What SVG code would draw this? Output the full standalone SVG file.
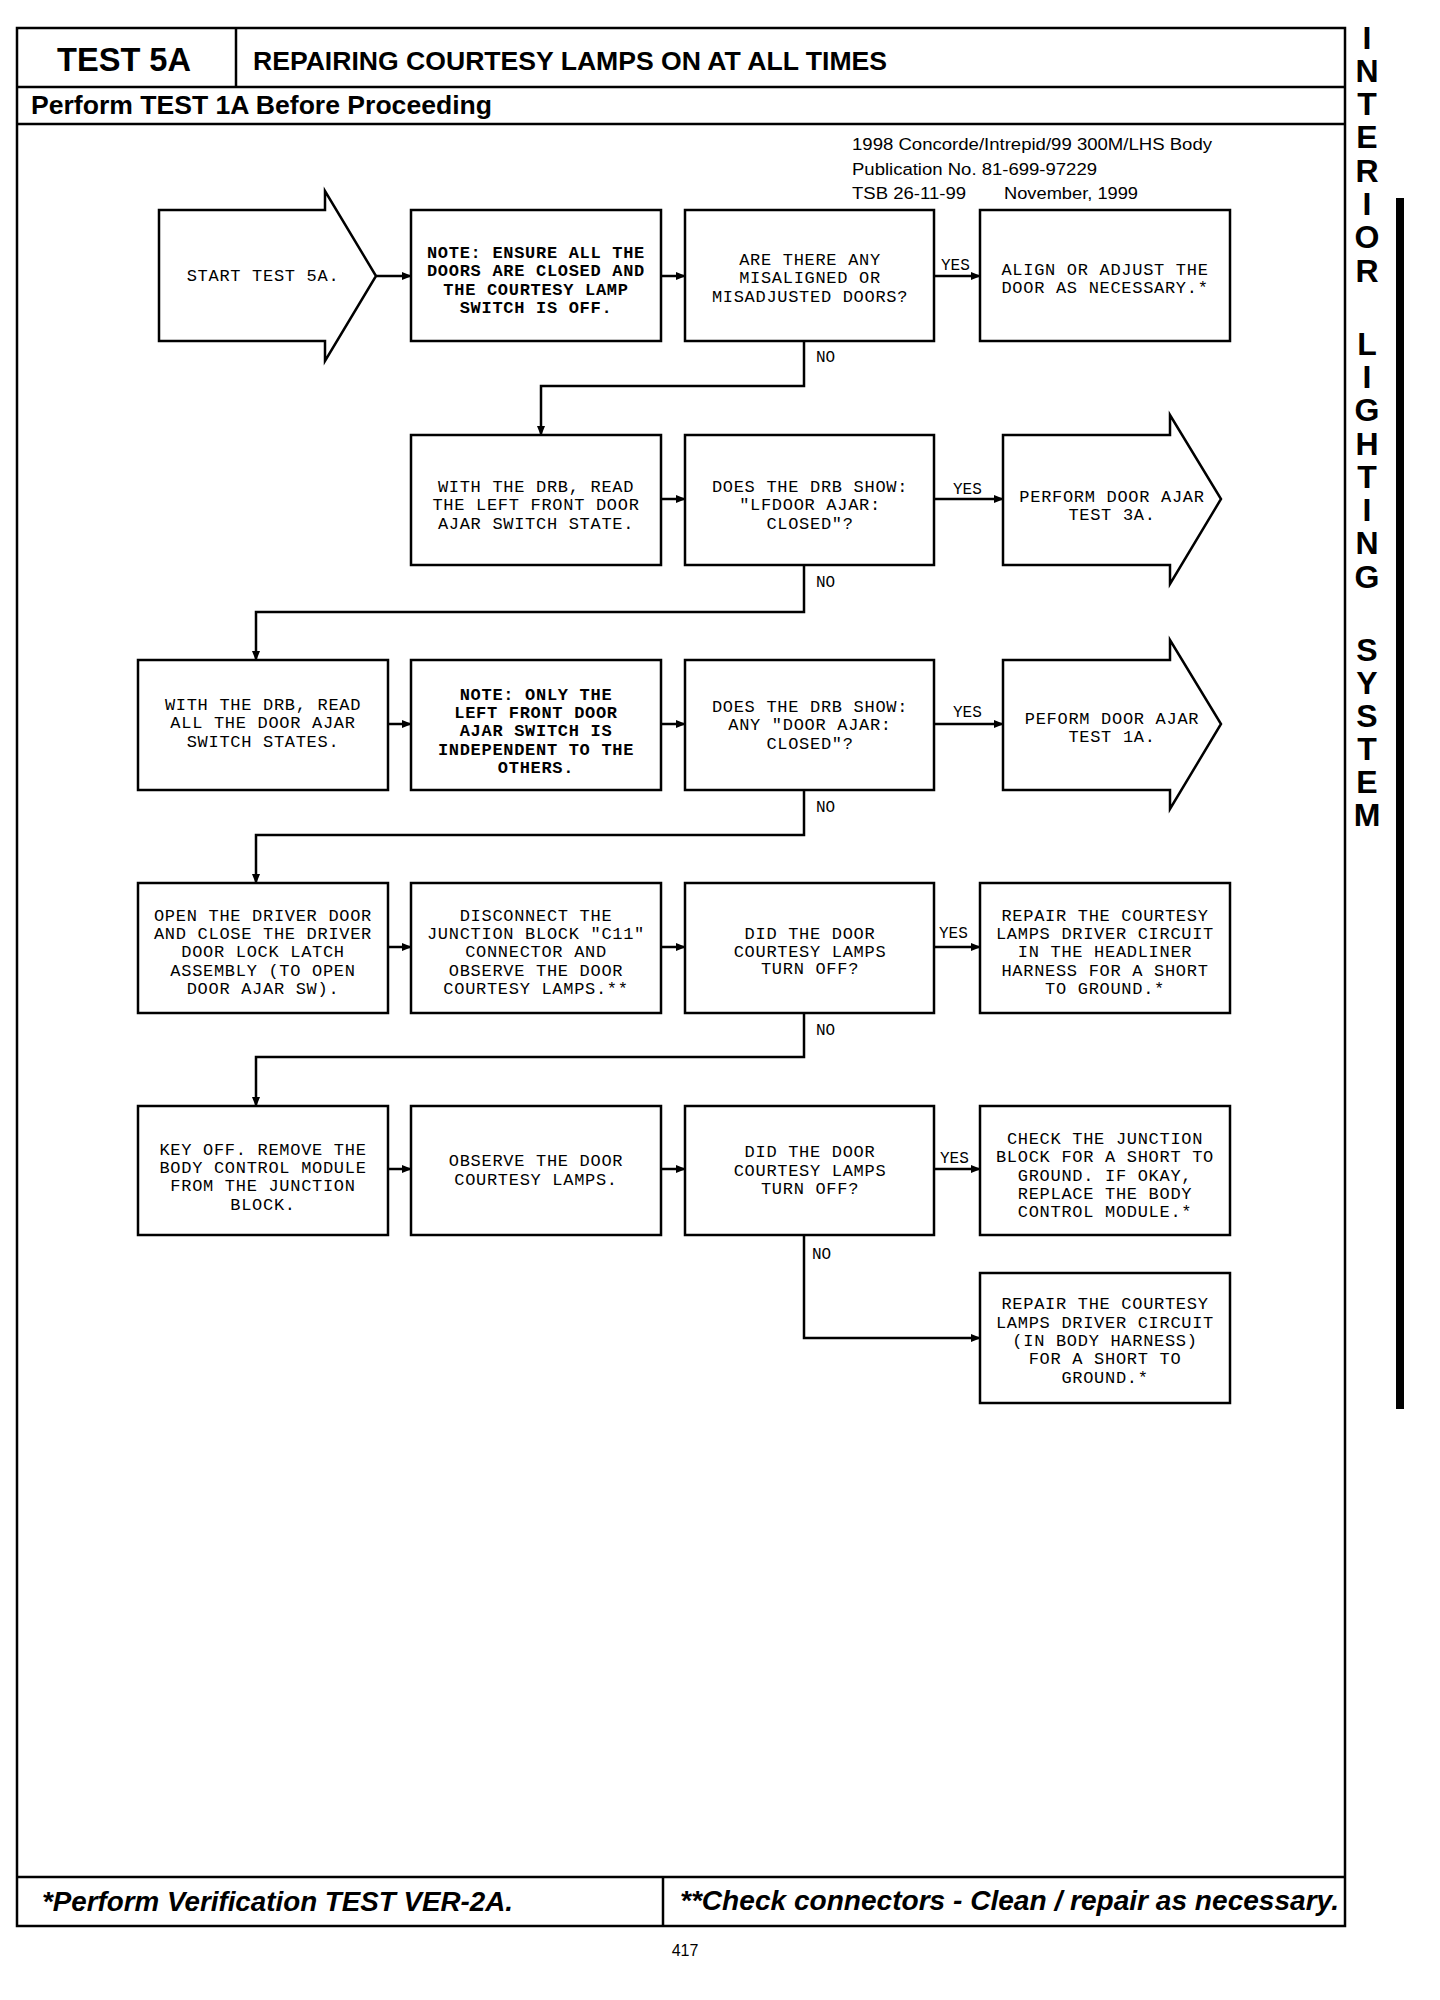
<svg xmlns="http://www.w3.org/2000/svg" width="1440" height="2000" viewBox="0 0 1440 2000">
<style>
.frame{fill:none;stroke:#000;stroke-width:2.5}
.box{fill:#fff;stroke:#000;stroke-width:2.5}
.t{font-family:"Liberation Mono","Courier New",monospace;font-size:17px;letter-spacing:0.7px;text-anchor:middle;fill:#000}
.b{font-weight:bold}
.lbl{font-family:"Liberation Mono","Courier New",monospace;font-size:16px;fill:#000}
.c{fill:none;stroke:#000;stroke-width:2.5}
.hd{font-family:"Liberation Sans",Arial,sans-serif;font-weight:bold;fill:#000}
.pub{font-family:"Liberation Sans",Arial,sans-serif;font-size:16px;fill:#000}
.side{font-family:"Liberation Sans",Arial,sans-serif;font-weight:bold;font-size:32px;text-anchor:middle;fill:#000}
.ft{font-family:"Liberation Sans",Arial,sans-serif;font-weight:bold;font-style:italic;font-size:27px;fill:#000}
</style>
<defs>
<marker id="ah" markerWidth="10" markerHeight="8" refX="9" refY="4" orient="auto" markerUnits="userSpaceOnUse">
<path d="M0,0 L10,4 L0,8 Z" fill="#000"/>
</marker>
</defs>
<rect width="1440" height="2000" fill="#fff"/>

<g id="frame">
<rect class="frame" x="17" y="28" width="1328" height="1898"/>
<line class="frame" x1="17" y1="87" x2="1345" y2="87"/>
<line class="frame" x1="17" y1="124" x2="1345" y2="124"/>
<line class="frame" x1="236" y1="28" x2="236" y2="87"/>
<line class="frame" x1="17" y1="1877" x2="1345" y2="1877"/>
<line class="frame" x1="663" y1="1877" x2="663" y2="1926"/>
<text class="hd" x="57" y="71" font-size="34" textLength="134" lengthAdjust="spacingAndGlyphs">TEST 5A</text>
<text class="hd" x="253" y="70" font-size="26" textLength="634" lengthAdjust="spacingAndGlyphs">REPAIRING COURTESY LAMPS ON AT ALL TIMES</text>
<text class="hd" x="31" y="114" font-size="25" textLength="461" lengthAdjust="spacingAndGlyphs">Perform TEST 1A Before Proceeding</text>
<text class="pub" x="852" y="150" textLength="360" lengthAdjust="spacingAndGlyphs">1998 Concorde/Intrepid/99 300M/LHS Body</text>
<text class="pub" x="852" y="175" textLength="245" lengthAdjust="spacingAndGlyphs">Publication No. 81-699-97229</text>
<text class="pub" x="852" y="199" textLength="114" lengthAdjust="spacingAndGlyphs">TSB 26-11-99</text>
<text class="pub" x="1004" y="199" textLength="134" lengthAdjust="spacingAndGlyphs">November, 1999</text>
<text class="ft" x="42" y="1911" textLength="471" lengthAdjust="spacingAndGlyphs">*Perform Verification TEST VER-2A.</text>
<text class="ft" x="680" y="1910" textLength="659" lengthAdjust="spacingAndGlyphs">**Check connectors - Clean / repair as necessary.</text>
<text class="pub" x="685" y="1956" font-size="22" text-anchor="middle">417</text>
</g>

<g id="sidebar">
<rect x="1396" y="198" width="8" height="1211" fill="#000"/>
<text class="side" x="1367" y="49">I</text>
<text class="side" x="1367" y="82">N</text>
<text class="side" x="1367" y="115">T</text>
<text class="side" x="1367" y="148">E</text>
<text class="side" x="1367" y="182">R</text>
<text class="side" x="1367" y="215">I</text>
<text class="side" x="1367" y="248">O</text>
<text class="side" x="1367" y="282">R</text>
<text class="side" x="1367" y="355">L</text>
<text class="side" x="1367" y="388">I</text>
<text class="side" x="1367" y="421">G</text>
<text class="side" x="1367" y="455">H</text>
<text class="side" x="1367" y="488">T</text>
<text class="side" x="1367" y="521">I</text>
<text class="side" x="1367" y="554">N</text>
<text class="side" x="1367" y="588">G</text>
<text class="side" x="1367" y="661">S</text>
<text class="side" x="1367" y="694">Y</text>
<text class="side" x="1367" y="727">S</text>
<text class="side" x="1367" y="760">T</text>
<text class="side" x="1367" y="793">E</text>
<text class="side" x="1367" y="826">M</text>
</g>

<g id="connectors">
<line class="c" x1="376" y1="276" x2="411" y2="276" marker-end="url(#ah)"/>
<line class="c" x1="661" y1="276" x2="685" y2="276" marker-end="url(#ah)"/>
<line class="c" x1="934" y1="276" x2="980" y2="276" marker-end="url(#ah)"/>
<polyline class="c" points="804,341 804,386 541,386 541,435" marker-end="url(#ah)"/>
<line class="c" x1="661" y1="499" x2="685" y2="499" marker-end="url(#ah)"/>
<line class="c" x1="934" y1="499" x2="1003" y2="499" marker-end="url(#ah)"/>
<polyline class="c" points="804,565 804,612 256,612 256,660" marker-end="url(#ah)"/>
<line class="c" x1="388" y1="724" x2="411" y2="724" marker-end="url(#ah)"/>
<line class="c" x1="661" y1="724" x2="685" y2="724" marker-end="url(#ah)"/>
<line class="c" x1="934" y1="724" x2="1003" y2="724" marker-end="url(#ah)"/>
<polyline class="c" points="804,790 804,835 256,835 256,883" marker-end="url(#ah)"/>
<line class="c" x1="388" y1="947" x2="411" y2="947" marker-end="url(#ah)"/>
<line class="c" x1="661" y1="947" x2="685" y2="947" marker-end="url(#ah)"/>
<line class="c" x1="934" y1="947" x2="980" y2="947" marker-end="url(#ah)"/>
<polyline class="c" points="804,1013 804,1057 256,1057 256,1106" marker-end="url(#ah)"/>
<line class="c" x1="388" y1="1169" x2="411" y2="1169" marker-end="url(#ah)"/>
<line class="c" x1="661" y1="1169" x2="685" y2="1169" marker-end="url(#ah)"/>
<line class="c" x1="934" y1="1169" x2="980" y2="1169" marker-end="url(#ah)"/>
<polyline class="c" points="804,1235 804,1338 980,1338" marker-end="url(#ah)"/>
<text class="lbl" x="941" y="270">YES</text>
<text class="lbl" x="816" y="362">NO</text>
<text class="lbl" x="953" y="494">YES</text>
<text class="lbl" x="816" y="587">NO</text>
<text class="lbl" x="953" y="717">YES</text>
<text class="lbl" x="816" y="812">NO</text>
<text class="lbl" x="939" y="938">YES</text>
<text class="lbl" x="816" y="1035">NO</text>
<text class="lbl" x="940" y="1163">YES</text>
<text class="lbl" x="812" y="1259">NO</text>
</g>

<g id="n-start">
<polygon class="box" points="159,210 325,210 325,191 376,276 325,361 325,341 159,341"/>
<text class="t" x="263" y="281">START TEST 5A.</text>
</g>
<g id="n-note1">
<rect class="box" x="411" y="210" width="250" height="131"/>
<text class="t b" x="536" y="258">NOTE: ENSURE ALL THE</text>
<text class="t b" x="536" y="276">DOORS ARE CLOSED AND</text>
<text class="t b" x="536" y="295">THE COURTESY LAMP</text>
<text class="t b" x="536" y="313">SWITCH IS OFF.</text>
</g>
<g id="n-q1">
<rect class="box" x="685" y="210" width="249" height="131"/>
<text class="t" x="810" y="265">ARE THERE ANY</text>
<text class="t" x="810" y="283">MISALIGNED OR</text>
<text class="t" x="810" y="302">MISADJUSTED DOORS?</text>
</g>
<g id="n-align">
<rect class="box" x="980" y="210" width="250" height="131"/>
<text class="t" x="1105" y="275">ALIGN OR ADJUST THE</text>
<text class="t" x="1105" y="293">DOOR AS NECESSARY.*</text>
</g>

<g id="n-read-lf">
<rect class="box" x="411" y="435" width="250" height="130"/>
<text class="t" x="536" y="492">WITH THE DRB, READ</text>
<text class="t" x="536" y="510">THE LEFT FRONT DOOR</text>
<text class="t" x="536" y="529">AJAR SWITCH STATE.</text>
</g>
<g id="n-q2">
<rect class="box" x="685" y="435" width="249" height="130"/>
<text class="t" x="810" y="492">DOES THE DRB SHOW:</text>
<text class="t" x="810" y="510">"LFDOOR AJAR:</text>
<text class="t" x="810" y="529">CLOSED"?</text>
</g>
<g id="n-test3a">
<polygon class="box" points="1003,435 1170,435 1170,415 1221,499 1170,584 1170,565 1003,565"/>
<text class="t" x="1112" y="502">PERFORM DOOR AJAR</text>
<text class="t" x="1112" y="520">TEST 3A.</text>
</g>

<g id="n-read-all">
<rect class="box" x="138" y="660" width="250" height="130"/>
<text class="t" x="263" y="710">WITH THE DRB, READ</text>
<text class="t" x="263" y="728">ALL THE DOOR AJAR</text>
<text class="t" x="263" y="747">SWITCH STATES.</text>
</g>
<g id="n-note2">
<rect class="box" x="411" y="660" width="250" height="130"/>
<text class="t b" x="536" y="700">NOTE: ONLY THE</text>
<text class="t b" x="536" y="718">LEFT FRONT DOOR</text>
<text class="t b" x="536" y="736">AJAR SWITCH IS</text>
<text class="t b" x="536" y="755">INDEPENDENT TO THE</text>
<text class="t b" x="536" y="773">OTHERS.</text>
</g>
<g id="n-q3">
<rect class="box" x="685" y="660" width="249" height="130"/>
<text class="t" x="810" y="712">DOES THE DRB SHOW:</text>
<text class="t" x="810" y="730">ANY "DOOR AJAR:</text>
<text class="t" x="810" y="749">CLOSED"?</text>
</g>
<g id="n-test1a">
<polygon class="box" points="1003,660 1170,660 1170,640 1221,724 1170,809 1170,790 1003,790"/>
<text class="t" x="1112" y="724">PEFORM DOOR AJAR</text>
<text class="t" x="1112" y="742">TEST 1A.</text>
</g>

<g id="n-open-door">
<rect class="box" x="138" y="883" width="250" height="130"/>
<text class="t" x="263" y="921">OPEN THE DRIVER DOOR</text>
<text class="t" x="263" y="939">AND CLOSE THE DRIVER</text>
<text class="t" x="263" y="957">DOOR LOCK LATCH</text>
<text class="t" x="263" y="976">ASSEMBLY (TO OPEN</text>
<text class="t" x="263" y="994">DOOR AJAR SW).</text>
</g>
<g id="n-disconnect">
<rect class="box" x="411" y="883" width="250" height="130"/>
<text class="t" x="536" y="921">DISCONNECT THE</text>
<text class="t" x="536" y="939">JUNCTION BLOCK "C11"</text>
<text class="t" x="536" y="957">CONNECTOR AND</text>
<text class="t" x="536" y="976">OBSERVE THE DOOR</text>
<text class="t" x="536" y="994">COURTESY LAMPS.**</text>
</g>
<g id="n-q4">
<rect class="box" x="685" y="883" width="249" height="130"/>
<text class="t" x="810" y="939">DID THE DOOR</text>
<text class="t" x="810" y="957">COURTESY LAMPS</text>
<text class="t" x="810" y="974">TURN OFF?</text>
</g>
<g id="n-repair-headliner">
<rect class="box" x="980" y="883" width="250" height="130"/>
<text class="t" x="1105" y="921">REPAIR THE COURTESY</text>
<text class="t" x="1105" y="939">LAMPS DRIVER CIRCUIT</text>
<text class="t" x="1105" y="957">IN THE HEADLINER</text>
<text class="t" x="1105" y="976">HARNESS FOR A SHORT</text>
<text class="t" x="1105" y="994">TO GROUND.*</text>
</g>

<g id="n-key-off">
<rect class="box" x="138" y="1106" width="250" height="129"/>
<text class="t" x="263" y="1155">KEY OFF. REMOVE THE</text>
<text class="t" x="263" y="1173">BODY CONTROL MODULE</text>
<text class="t" x="263" y="1191">FROM THE JUNCTION</text>
<text class="t" x="263" y="1210">BLOCK.</text>
</g>
<g id="n-observe">
<rect class="box" x="411" y="1106" width="250" height="129"/>
<text class="t" x="536" y="1166">OBSERVE THE DOOR</text>
<text class="t" x="536" y="1185">COURTESY LAMPS.</text>
</g>
<g id="n-q5">
<rect class="box" x="685" y="1106" width="249" height="129"/>
<text class="t" x="810" y="1157">DID THE DOOR</text>
<text class="t" x="810" y="1176">COURTESY LAMPS</text>
<text class="t" x="810" y="1194">TURN OFF?</text>
</g>
<g id="n-check-jb">
<rect class="box" x="980" y="1106" width="250" height="129"/>
<text class="t" x="1105" y="1144">CHECK THE JUNCTION</text>
<text class="t" x="1105" y="1162">BLOCK FOR A SHORT TO</text>
<text class="t" x="1105" y="1181">GROUND. IF OKAY,</text>
<text class="t" x="1105" y="1199">REPLACE THE BODY</text>
<text class="t" x="1105" y="1217">CONTROL MODULE.*</text>
</g>
<g id="n-repair-body">
<rect class="box" x="980" y="1273" width="250" height="130"/>
<text class="t" x="1105" y="1309">REPAIR THE COURTESY</text>
<text class="t" x="1105" y="1328">LAMPS DRIVER CIRCUIT</text>
<text class="t" x="1105" y="1346">(IN BODY HARNESS)</text>
<text class="t" x="1105" y="1364">FOR A SHORT TO</text>
<text class="t" x="1105" y="1383">GROUND.*</text>
</g>
</svg>
